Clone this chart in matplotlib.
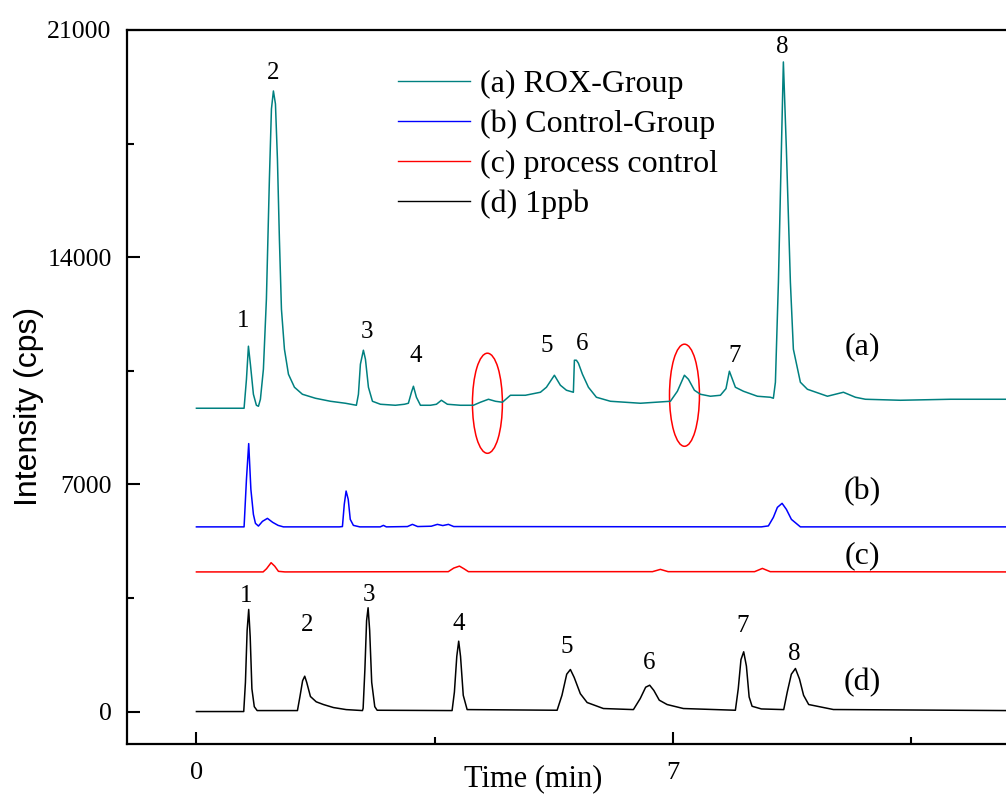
import matplotlib
matplotlib.use("Agg")
import matplotlib.pyplot as plt
from matplotlib.patches import Ellipse
from matplotlib.lines import Line2D

# ---------------- data (time in min, intensity in cps) ----------------
a_time = [0.00, 0.70, 0.735, 0.764, 0.793, 0.837, 0.881, 0.911, 0.940, 0.984, 1.028, 1.072, 1.102,
          1.131, 1.161, 1.190, 1.219, 1.249, 1.293, 1.352, 1.440, 1.557, 1.748, 1.969, 2.189, 2.350,
          2.380, 2.409, 2.453, 2.483, 2.527, 2.586, 2.703, 2.923, 3.056, 3.114, 3.159, 3.188, 3.232,
          3.291, 3.438, 3.526, 3.599, 3.687, 3.878, 4.069, 4.172, 4.290, 4.393, 4.495, 4.613, 4.833,
          5.054, 5.142, 5.259, 5.347, 5.436, 5.538, 5.553, 5.582, 5.612, 5.671, 5.759, 5.876, 6.082,
          6.523, 6.963, 7.066, 7.169, 7.228, 7.316, 7.404, 7.551, 7.698, 7.780, 7.830, 7.918, 8.036,
          8.241, 8.432, 8.476, 8.506, 8.550, 8.594, 8.623, 8.667, 8.726, 8.770, 8.873, 8.976, 9.270,
          9.505, 9.681, 9.828, 10.342, 11.077, 11.90]
a_int = [9345, 9345, 10240, 11257, 10700, 9776, 9437, 9406, 9622, 10547, 12706, 16407, 18566,
         19121, 18720, 17024, 14556, 12398, 11164, 10393, 9992, 9776, 9653, 9560, 9499, 9437,
         9776, 10701, 11133, 10856, 9992, 9560, 9468, 9437, 9468, 9499, 9838, 10023, 9684,
         9437, 9437, 9468, 9591, 9468, 9437, 9437, 9530, 9622, 9560, 9530, 9745, 9745,
         9838, 9992, 10362, 10054, 9900, 9838, 10825, 10825, 10732, 10393, 9992, 9684, 9560,
         9499, 9560, 9869, 10362, 10239, 9900, 9776, 9715, 9745, 9950, 10486, 9992, 9869,
         9715, 9684, 9653, 10146, 13230, 17332, 20015, 17332, 13230, 11164, 10146, 9930, 9715,
         9838, 9684, 9622, 9591, 9622, 9622]

b_time = [0.00, 0.70, 0.735, 0.768, 0.80, 0.837, 0.867, 0.911, 0.97, 1.043, 1.12, 1.20, 1.278,
          2.10, 2.145, 2.172, 2.199, 2.23, 2.26, 2.306, 2.40, 2.70, 2.747, 2.79, 3.10, 3.173, 3.25,
          3.45, 3.540, 3.62, 3.702, 3.78, 8.30, 8.403, 8.476, 8.535, 8.604, 8.667, 8.741, 8.873, 11.90]
b_int = [5690, 5690, 7155, 8256, 6846, 6075, 5798, 5715, 5860, 5952, 5830, 5736, 5690,
         5690, 5700, 6384, 6794, 6538, 5921, 5736, 5690, 5690, 5736, 5690, 5700, 5767, 5700,
         5710, 5767, 5730, 5767, 5700, 5690, 5720, 5983, 6291, 6415, 6230, 5921, 5690, 5690]

c_time = [0.00, 0.98, 1.03, 1.097, 1.15, 1.205, 1.30, 3.70, 3.78, 3.864, 3.93, 3.996, 6.70, 6.816,
          6.93, 8.20, 8.315, 8.43, 11.90]
c_int = [4302, 4302, 4400, 4586, 4480, 4320, 4302, 4310, 4420, 4481, 4400, 4310, 4310, 4380,
         4310, 4310, 4410, 4310, 4302]

d_time = [0.00, 0.695, 0.72, 0.745, 0.768, 0.79, 0.815, 0.85, 0.892, 1.484, 1.52, 1.56, 1.591, 1.62,
          1.675, 1.76, 1.866, 2.013, 2.20, 2.439, 2.449, 2.475, 2.50, 2.522, 2.545, 2.575, 2.62, 2.655,
          3.756, 3.79, 3.825, 3.853, 3.88, 3.92, 3.977, 5.299, 5.37, 5.44, 5.494, 5.55, 5.64, 5.740,
          5.979, 6.420, 6.52, 6.60, 6.659, 6.72, 6.80, 6.915, 7.154, 7.918, 7.96, 8.00, 8.040, 8.08,
          8.12, 8.163, 8.30, 8.628, 8.68, 8.74, 8.800, 8.86, 8.92, 8.995, 9.358, 11.90]
d_int = [0, 0, 900, 2500, 3146, 2300, 700, 150, 30, 30, 450, 950, 1089, 900,
         463, 300, 216, 123, 60, 30, 100, 1300, 2800, 3198, 2500, 900, 150, 40,
         30, 600, 1700, 2168, 1700, 500, 60, 40, 500, 1150, 1295, 1050, 550, 278,
         93, 60, 400, 750, 811, 650, 350, 216, 93, 40, 700, 1600, 1841, 1400,
         450, 163, 80, 60, 600, 1150, 1326, 1000, 500, 216, 62, 30]

series_labels = ["(a) ROX-Group", "(b) Control-Group", "(c) process control", "(d) 1ppb"]
series_colors = ["#008080", "#0000ff", "#ff0000", "#000000"]

# peak number annotations
a_peak_names = ["1", "2", "3", "4", "5", "6", "7", "8"]
a_peak_t = [0.69, 1.12, 2.51, 3.22, 5.14, 5.66, 7.90, 8.61]
a_peak_v = [12028, 19676, 11688, 10948, 11257, 11318, 10948, 20478]
d_peak_names = ["1", "2", "3", "4", "5", "6", "7", "8"]
d_peak_t = [0.73, 1.63, 2.54, 3.85, 5.44, 6.65, 8.02, 8.79]
d_peak_v = [3547, 2652, 3577, 2683, 1974, 1511, 2621, 1758]

trace_tags = ["(a)", "(b)", "(c)", "(d)"]
tag_t = [9.78, 9.78, 9.78, 9.78]
tag_v = [11226, 6785, 4811, 894]

# highlighted regions (red ellipses): centre time, centre intensity, width, height
hl_t = [4.275, 7.17]
hl_v = [9499, 9746]
hl_w = [0.44, 0.44]
hl_h = [3084, 3146]

x_major = [0, 7]
x_minor = [3.5, 10.5]
y_major = [0, 7000, 14000, 21000]
y_minor = [3500, 10500, 17500]

# ---------------- figure ----------------
SERIF = "Liberation Serif"
SANS = "Liberation Sans"

fig = plt.figure(figsize=(10.06, 7.96), dpi=100)
ax = fig.add_axes([0.12624, 0.06533, 0.8796, 0.897])

traces = [(a_time, a_int), (b_time, b_int), (c_time, c_int), (d_time, d_int)]
for (t, v), col in zip(traces, series_colors):
    ax.plot(t, v, color=col, lw=1.1, solid_joinstyle="round")

for tc, vc, w, h in zip(hl_t, hl_v, hl_w, hl_h):
    ax.add_patch(Ellipse((tc, vc), w, h, fill=False, edgecolor="#ff0000", lw=1.1))

for n, t, v in zip(a_peak_names, a_peak_t, a_peak_v):
    ax.text(t, v, n, fontsize=18, family=SERIF, ha="center", va="center")
for n, t, v in zip(d_peak_names, d_peak_t, d_peak_v):
    ax.text(t, v, n, fontsize=18, family=SERIF, ha="center", va="center")
for n, t, v in zip(trace_tags, tag_t, tag_v):
    ax.text(t, v, n, fontsize=23, family=SERIF, ha="center", va="center")

ax.set_xticks(x_major)
ax.set_xticks(x_minor, minor=True)
ax.set_yticks(y_major)
ax.set_yticks(y_minor, minor=True)
ax.set_xticklabels([str(x) for x in x_major])
ax.set_yticklabels([str(y) for y in y_major])
ax.set_xlim(-1.02, 11.98)
ax.set_ylim(-1000, 21000)
ax.tick_params(which="both", direction="in", width=1.5)
ax.tick_params(which="major", length=9)
ax.tick_params(which="minor", length=5)
ax.tick_params(axis="y", which="major", pad=11, labelsize=18.5)
ax.tick_params(axis="x", which="major", pad=13, labelsize=19)
for lab in ax.get_xticklabels() + ax.get_yticklabels():
    lab.set_family(SERIF)
for s in ax.spines.values():
    s.set_linewidth(1.6)

fig.text(533 / 1006, 1 - 779 / 796, "Time (min)", fontsize=22, family=SERIF,
         ha="center", va="center")
fig.text(29 / 1006, 1 - 406 / 796, "Intensity (cps)", fontsize=23, family=SANS,
         ha="center", va="center", rotation=90)

handles = [Line2D([], [], color=c, lw=1.0) for c in series_colors]
ax.legend(handles, series_labels, loc="upper left",
          bbox_to_anchor=(398 / 1006, 1 - 70 / 796), bbox_transform=fig.transFigure,
          frameon=False, prop={"family": SERIF, "size": 23}, handlelength=2.26,
          handletextpad=0.3, labelspacing=0.33, borderpad=0, borderaxespad=0)

fig.savefig("out.png", dpi=100)
